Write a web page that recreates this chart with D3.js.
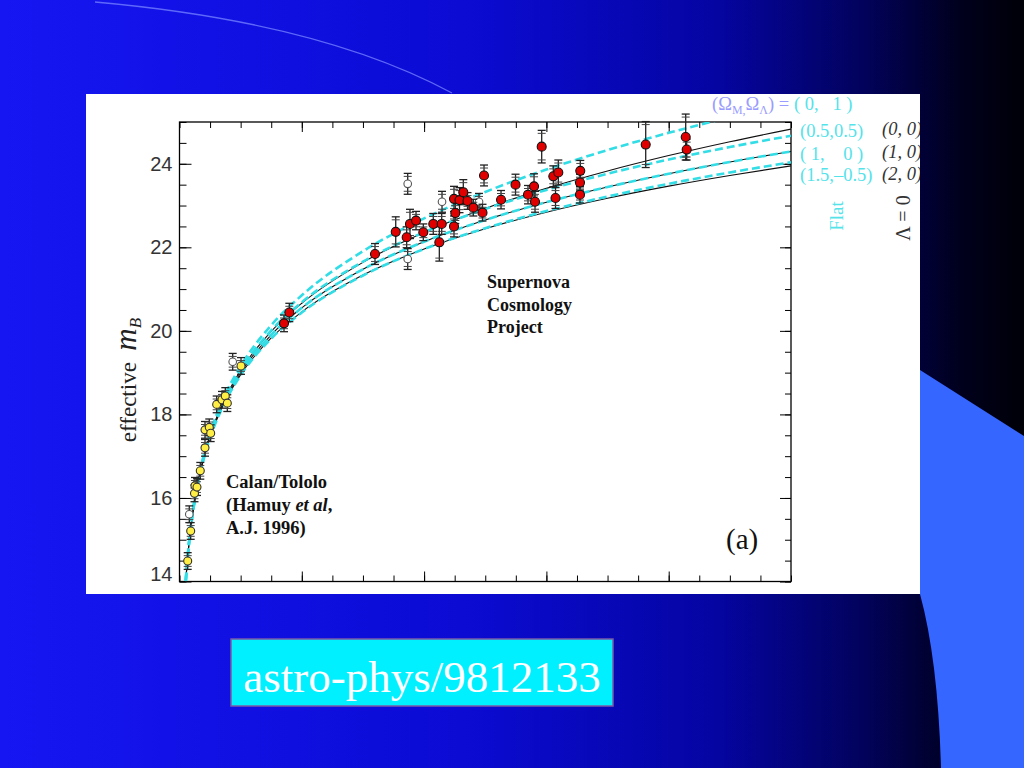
<!DOCTYPE html>
<html><head><meta charset="utf-8">
<script src="https://cdn.jsdelivr.net/npm/d3@7/dist/d3.min.js"></script>
<style>html,body{margin:0;padding:0;background:#000;}svg{display:block;}text{white-space:pre;}</style>
</head><body>
<svg id="chart" width="1024" height="768"></svg>
<script>
// ---------- DATA ----------
const zGrid = [0.009,0.01,0.015,0.02,0.03,0.04,0.05,0.07,0.1,0.15,0.2,0.3,0.4,0.5,0.6,0.7,0.8,0.9,1.0];
// Lambda = 0 models (black solid)
const mOpen00 = [13.73,13.961,14.847,15.477,16.368,17.003,17.499,18.25,19.056,19.988,20.662,21.64,22.356,22.93,23.411,23.827,24.196,24.528,24.83];
const mEdS10  = [13.726,13.955,14.839,15.466,16.352,16.981,17.471,18.211,19.001,19.906,20.552,21.474,22.135,22.654,23.081,23.444,23.761,24.042,24.294];
const mClosed20 = [13.721,13.95,14.831,15.455,16.336,16.96,17.445,18.175,18.95,19.831,20.455,21.336,21.96,22.445,22.841,23.175,23.465,23.721,23.95];
// Flat models (cyan dashed)
const mFlat01   = [13.74,13.972,14.863,15.498,16.40,17.045,17.551,18.322,19.157,20.135,20.851,21.906,22.691,23.325,23.862,24.327,24.741,25.115,25.455];
const mFlat0505 = [13.733,13.964,14.851,15.482,16.376,17.013,17.511,18.267,19.075,20.01,20.686,21.658,22.362,22.916,23.373,23.762,24.101,24.401,24.67];
const mFlat10   = mEdS10.slice();
const mFlat15   = [13.718,13.947,14.827,15.45,16.328,16.95,17.433,18.16,18.934,19.814,20.438,21.325,21.96,22.458,22.868,23.216,23.521,23.792,24.036];

// Calan/Tololo (yellow)
const ctZ   = [0.0134,0.0183,0.0245,0.0253,0.0286,0.034,0.0417,0.0417,0.0487,0.051,0.0608,0.0695,0.0749,0.0782,0.1006];
const ctM   = [14.49,15.21,16.11,16.29,16.26,16.65,17.20,17.63,17.69,17.55,18.24,18.35,18.44,18.27,19.16];
const ctErr = [0.2,0.2,0.2,0.2,0.2,0.2,0.2,0.2,0.2,0.2,0.2,0.2,0.2,0.2,0.2];
// Supernova Cosmology Project (red)
const scpZ = [0.1709,0.1796,0.3197,0.3536,0.3715,0.3769,0.3868,0.3987,0.4150,0.4288,0.4249,0.4489,0.4510,0.4489,0.4579,0.4641,0.4710,0.4805,0.4955,0.4980,0.5258,0.5495,0.5699,0.5798,0.5814,0.5923,0.6113,0.6195,0.6149,0.6554,0.6549,0.6549,0.7624,0.8278,0.8294];
const scpM = [20.18,20.44,21.84,22.37,22.24,22.56,22.64,22.36,22.56,22.56,22.12,23.16,22.82,22.50,23.13,23.32,23.11,22.95,22.83,23.72,23.14,23.50,23.26,23.46,23.09,24.41,23.70,23.79,23.18,23.83,23.55,23.26,24.46,24.64,24.34];
const scpErr = [0.2,0.22,0.25,0.36,0.25,0.35,0.22,0.2,0.25,0.25,0.45,0.3,0.25,0.25,0.3,0.3,0.2,0.2,0.2,0.25,0.22,0.25,0.22,0.3,0.25,0.39,0.25,0.3,0.25,0.25,0.2,0.2,0.55,0.55,0.25];
// excluded / open points
const openZ = [0.016,0.087,0.3732,0.3732,0.4293,0.4898];
const openM = [15.61,19.26,23.52,21.72,23.09,23.09];
const openErr = [0.2,0.2,0.25,0.25,0.25,0.2];

const yTicks = [14,16,18,20,22,24];
const labelFlat = ["( 0,   1 )","(0.5,0.5)","( 1,    0 )","(1.5,\u20130.5)"];
const labelL0 = ["(0, 0)","(1, 0)","(2, 0)"];

// ---------- LAYOUT ----------
const svg = d3.select("#chart");
const defs = svg.append("defs");
const g1 = defs.append("linearGradient").attr("id","bg").attr("x1","0").attr("x2","1").attr("y1","0").attr("y2","0");
[[0,"#1616f3"],[0.45,"#0b0bd4"],[0.7,"#0505a2"],[0.84,"#02025e"],[0.94,"#00001c"],[1,"#000008"]]
  .forEach(([o,c])=>g1.append("stop").attr("offset",o).attr("stop-color",c));
svg.append("rect").attr("width",1024).attr("height",768).attr("fill","url(#bg)");
svg.append("path").attr("d","M920,370 L1024,436 L1024,768 L941,768 Q938,660 920,594 Z").attr("fill","#3566ff");
svg.append("path").attr("d","M95,2 Q320,22 452,93").attr("fill","none").attr("stroke","#7a86ff").attr("stroke-width",1.3).attr("opacity",0.75);

// white panel
defs.append("clipPath").attr("id","panelClip").append("rect").attr("x",86).attr("y",94).attr("width",834).attr("height",500);
svg.append("rect").attr("x",86).attr("y",94).attr("width",834).attr("height",500).attr("fill","#fff");
const panel = svg.append("g").attr("clip-path","url(#panelClip)");

const L=179.5, R=791, T=122, B=581.5;
const x = d3.scaleLinear().domain([0,1]).range([L,R]);
const y = d3.scaleLinear().domain([14,25]).range([B,T]);

defs.append("clipPath").attr("id","plotClip").append("rect").attr("x",L).attr("y",T).attr("width",R-L).attr("height",B-T);

// axes ticks
const minorY = d3.range(14,25.01,0.5);
const minorX = d3.range(0,1.001,0.05).map(v=>+v.toFixed(2));
const majorX = [0.2,0.4,0.6,0.8];
function styleAxis(sel){sel.select(".domain").remove();sel.selectAll("line").attr("stroke","#000").attr("stroke-width",1);}
panel.append("g").attr("transform",`translate(${L},0)`).call(d3.axisLeft(y).tickValues(minorY).tickSize(-7).tickFormat("")).call(styleAxis);
const yAx = panel.append("g").attr("transform",`translate(${L},0)`).call(d3.axisLeft(y).tickValues(yTicks).tickSize(-12).tickPadding(7).tickFormat(d3.format("d"))).call(styleAxis);
yAx.selectAll("text").attr("font-family","Liberation Sans, Arial, sans-serif").attr("font-size",20).attr("fill","#333");
yAx.selectAll(".tick").filter(d=>d===14).select("text").attr("dy","-0.05em");
panel.append("g").attr("transform",`translate(${R},0)`).call(d3.axisRight(y).tickValues(minorY).tickSize(-6).tickFormat("")).call(styleAxis);
panel.append("g").attr("transform",`translate(${R},0)`).call(d3.axisRight(y).tickValues(yTicks).tickSize(-11).tickFormat("")).call(styleAxis);
panel.append("g").attr("transform",`translate(0,${B})`).call(d3.axisBottom(x).tickValues(minorX).tickSize(-6).tickFormat("")).call(styleAxis);
panel.append("g").attr("transform",`translate(0,${B})`).call(d3.axisBottom(x).tickValues(majorX).tickSize(-10).tickFormat("")).call(styleAxis);
panel.append("g").attr("transform",`translate(0,${T})`).call(d3.axisTop(x).tickValues(minorX).tickSize(-6).tickFormat("")).call(styleAxis);
panel.append("g").attr("transform",`translate(0,${T})`).call(d3.axisTop(x).tickValues(majorX).tickSize(-10).tickFormat("")).call(styleAxis);
panel.append("rect").attr("x",L).attr("y",T).attr("width",R-L).attr("height",B-T).attr("fill","none").attr("stroke","#000").attr("stroke-width",1.3);

// curves
const plot = panel.append("g").attr("clip-path","url(#plotClip)");
const line = d3.line().x((d,i)=>x(zGrid[i])).y(d=>y(d)).curve(d3.curveMonotoneX);
[mOpen00,mEdS10,mClosed20].forEach(s=>plot.append("path").attr("d",line(s)).attr("fill","none").attr("stroke","#111").attr("stroke-width",1.1));
[mFlat01,mFlat0505,mFlat10,mFlat15].forEach(s=>plot.append("path").attr("d",line(s)).attr("fill","none").attr("stroke","#33dde6").attr("stroke-width",2.6).attr("stroke-dasharray","8,4"));

// points with error bars
function drawSet(zs,ms,es,fill,stroke,r){
  const gg = panel.append("g");
  zs.forEach((z,i)=>{
    const cx=x(z), y0=y(ms[i]-es[i]), y1=y(ms[i]+es[i]);
    gg.append("line").attr("x1",cx).attr("x2",cx).attr("y1",y0).attr("y2",y1).attr("stroke","#222").attr("stroke-width",1.3);
    [y0,y1].forEach(yy=>{
      gg.append("line").attr("x1",cx-4).attr("x2",cx+4).attr("y1",yy).attr("y2",yy).attr("stroke","#222").attr("stroke-width",1.3);
      gg.append("line").attr("x1",cx-4).attr("x2",cx+4).attr("y1",yy+(yy===y0?-3:3)).attr("y2",yy+(yy===y0?-3:3)).attr("stroke","#444").attr("stroke-width",1);
    });
  });
  zs.forEach((z,i)=>gg.append("circle").attr("cx",x(z)).attr("cy",y(ms[i])).attr("r",r).attr("fill",fill).attr("stroke",stroke).attr("stroke-width",1.1));
}
drawSet(openZ,openM,openErr,"#fff","#555",3.8);
drawSet(ctZ,ctM,ctErr,"#ffee44","#333",4);
drawSet(scpZ,scpM,scpErr,"#e00000","#111",4.5);

// in-plot text
const serif = "Liberation Serif, Times New Roman, serif";
const t1 = panel.append("text").attr("font-family",serif).attr("font-weight","bold").attr("font-size",18).attr("fill","#111");
["Supernova","Cosmology","Project"].forEach((s,i)=>t1.append("tspan").attr("x",487).attr("y",288+i*22.5).text(s));
const t2 = panel.append("text").attr("font-family",serif).attr("font-weight","bold").attr("font-size",18.5).attr("fill","#111");
t2.append("tspan").attr("x",226).attr("y",488).text("Calan/Tololo");
t2.append("tspan").attr("x",226).attr("y",511).text("(Hamuy ");
t2.append("tspan").attr("font-style","italic").text("et al");
t2.append("tspan").text(",");
t2.append("tspan").attr("x",226).attr("y",533.5).text("A.J. 1996)");
panel.append("text").attr("x",726).attr("y",549).attr("font-family",serif).attr("font-size",29).attr("fill","#111").text("(a)");

// y-axis title
const yt = panel.append("text").attr("transform","translate(136,380) rotate(-90)").attr("text-anchor","middle").attr("font-family",serif).attr("fill","#222");
yt.append("tspan").attr("font-size",23).text("effective  ");
yt.append("tspan").attr("font-size",31).attr("font-style","italic").text("m");
yt.append("tspan").attr("font-size",17).attr("font-style","italic").attr("dy",5).text("B");

// right labels
const cy = "#55e3ea";
const lt = panel.append("text").attr("x",712).attr("y",110).attr("font-family",serif).attr("font-size",18.5);
lt.append("tspan").attr("fill","#9a9cff").text("(\u03A9");
lt.append("tspan").attr("fill","#9a9cff").attr("font-size",12).attr("dy",4).text("M,");
lt.append("tspan").attr("fill","#9a9cff").attr("dy",-4).text("\u03A9");
lt.append("tspan").attr("fill","#9a9cff").attr("font-size",12).attr("dy",4).text("\u039B");
lt.append("tspan").attr("fill","#9a9cff").attr("dy",-4).text(") = ");
lt.append("tspan").attr("fill",cy).text(labelFlat[0]);
[1,2,3].forEach(i=>panel.append("text").attr("x",800).attr("y",[0,137,160,181][i]).attr("font-family",serif).attr("font-size",18.5).attr("fill",cy).text(labelFlat[i]));
labelL0.forEach((s,i)=>panel.append("text").attr("x",882).attr("y",[135,158,180][i]).attr("font-family",serif).attr("font-style","italic").attr("font-size",18.5).attr("fill","#333").text(s));
panel.append("text").attr("transform","translate(843,216) rotate(-90)").attr("text-anchor","middle").attr("font-family",serif).attr("font-size",19).attr("fill",cy).text("Flat");
panel.append("text").attr("transform","translate(910,218) rotate(-90)").attr("text-anchor","middle").attr("font-family",serif).attr("font-size",20).attr("fill","#333").text("\u039B = 0");

// caption box
svg.append("rect").attr("x",231).attr("y",639).attr("width",382).attr("height",67).attr("fill","#00f0ff").attr("stroke","#7a5aa8").attr("stroke-width",1.5);
svg.append("text").attr("x",422).attr("y",692).attr("text-anchor","middle").attr("font-family",serif).attr("font-size",45).attr("fill","#fff").text("astro-phys/9812133");
</script>
</body></html>
